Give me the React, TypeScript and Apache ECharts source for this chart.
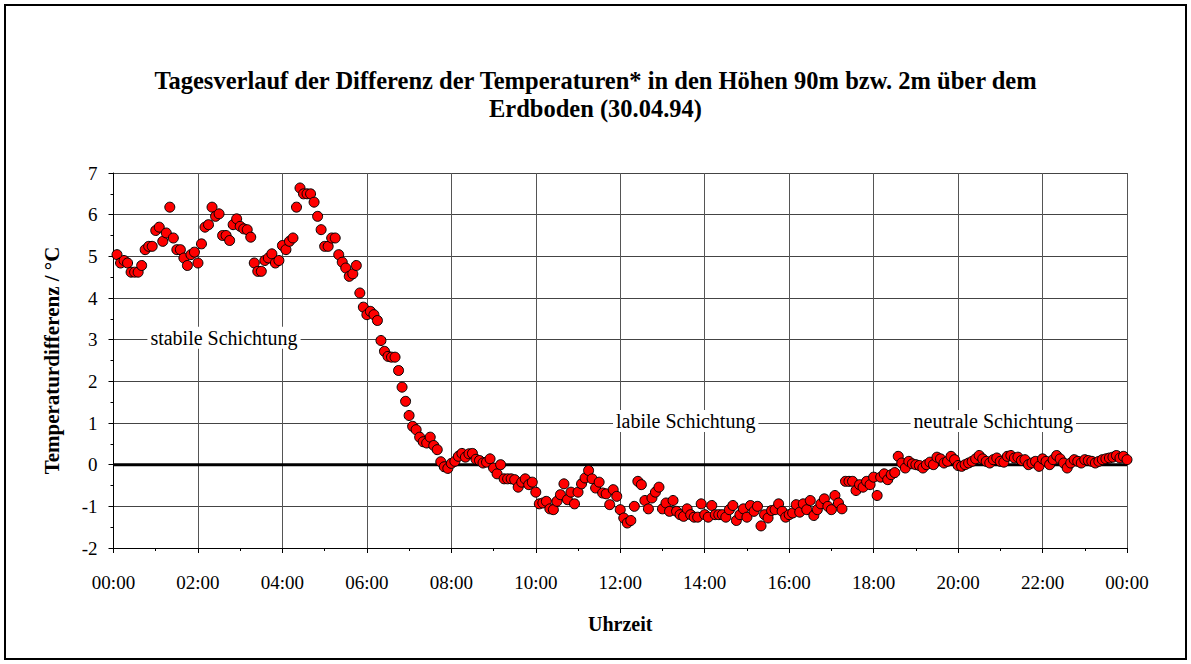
import React, { useEffect, useRef } from "react";
import * as echarts from "echarts";

const TITLE_LINES = [
  "Tagesverlauf der Differenz der Temperaturen* in den Höhen 90m bzw. 2m über dem",
  "Erdboden (30.04.94)",
];
const X_NAME = "Uhrzeit";
const Y_NAME = "Temperaturdifferenz / °C";

// measurement every 5 minutes, first at 00:05, last at 24:00
const FIRST_MINUTE = 5;
const STEP_MINUTES = 5;

// 00:05 – 06:00
const valuesNight = [
  5.04, 4.84, 4.9, 4.84, 4.62, 4.62, 4.62, 4.78, 5.16, 5.24, 5.24, 5.62,
  5.7, 5.36, 5.56, 6.18, 5.44, 5.16, 5.16, 4.96, 4.78, 5.04, 5.1, 4.84,
  5.3, 5.7, 5.76, 6.18, 5.96, 6.02, 5.5, 5.5, 5.38, 5.76, 5.9, 5.72,
  5.66, 5.64, 5.46, 4.84, 4.64, 4.64, 4.9, 4.96, 5.06, 4.84, 4.9, 5.26,
  5.16, 5.36, 5.44, 6.18, 6.64, 6.5, 6.5, 6.5, 6.3, 5.96, 5.64, 5.24,
  5.24, 5.44, 5.44, 5.04, 4.86, 4.72, 4.52, 4.58, 4.78, 4.12, 3.78, 3.6,
];
// 06:05 – 12:00
const valuesMorning = [
  3.68, 3.6, 3.46, 2.98, 2.72, 2.6, 2.58, 2.58, 2.26, 1.86, 1.52, 1.18,
  0.92, 0.84, 0.66, 0.55, 0.52, 0.66, 0.46, 0.36, 0.07, -0.05, -0.09, 0.03,
  0.08, 0.2, 0.27, 0.18, 0.26, 0.27, 0.13, 0.1, 0.04, 0.06, 0.14, -0.08,
  -0.22, 0, -0.34, -0.34, -0.34, -0.36, -0.54, -0.42, -0.34, -0.48, -0.42, -0.66,
  -0.94, -0.92, -0.88, -1.06, -1.08, -0.88, -0.72, -0.46, -0.84, -0.66, -0.94, -0.66,
  -0.46, -0.32, -0.14, -0.34, -0.56, -0.42, -0.68, -0.7, -0.96, -0.6, -0.76, -1.08,
];
// 12:05 – 18:00
const valuesAfternoon = [
  -1.28, -1.4, -1.34, -1.0, -0.4, -0.48, -0.86, -1.06, -0.8, -0.66, -0.54, -1.06,
  -0.92, -1.12, -0.86, -1.12, -1.2, -1.24, -1.06, -1.2, -1.26, -1.26, -0.94, -1.2,
  -1.26, -0.98, -1.2, -1.2, -1.2, -1.26, -1.08, -0.98, -1.34, -1.2, -1.06, -1.26,
  -0.98, -1.12, -1.0, -1.47, -1.2, -1.28, -1.1, -1.08, -0.94, -1.12, -1.26, -1.2,
  -1.16, -0.96, -1.14, -0.94, -1.08, -0.86, -1.22, -1.08, -0.94, -0.82, -1.0, -1.08,
  -0.74, -0.92, -1.06, -0.4, -0.4, -0.4, -0.62, -0.48, -0.54, -0.4, -0.48, -0.3,
];
// 18:05 – 24:00
const valuesEvening = [
  -0.74, -0.3, -0.22, -0.36, -0.24, -0.19, 0.2, 0.04, -0.08, 0.08, 0.02, 0,
  -0.02, -0.08, 0, 0.06, 0, 0.18, 0.14, 0.04, 0.08, 0.2, 0.12, -0.02,
  -0.04, 0, 0.04, 0.08, 0.14, 0.22, 0.14, 0.08, 0.04, 0.12, 0.16, 0.08,
  0.06, 0.2, 0.22, 0.16, 0.18, 0.1, 0.12, 0, 0.04, 0.08, -0.04, 0.14,
  0.08, 0, 0.12, 0.22, 0.14, 0.04, -0.08, 0.04, 0.12, 0.08, 0.04, 0.12,
  0.1, 0.08, 0.04, 0.08, 0.12, 0.14, 0.16, 0.18, 0.22, 0.16, 0.2, 0.12,
];

const ANNOTATIONS = [
  { text: "stabile Schichtung", minute: 157, value: 3 },
  { text: "labile Schichtung", minute: 813, value: 1 },
  { text: "neutrale Schichtung", minute: 1250, value: 1 },
];

const X_MIN = 0;
const X_MAX = 1440;
const X_INTERVAL = 120;
const Y_MIN = -2;
const Y_MAX = 7;
const Y_INTERVAL = 1;

const FONT = "'Liberation Serif', 'Times New Roman', Times, serif";

function fmtTime(v: number): string {
  const m = Math.round(v) % 1440;
  const h = Math.floor(m / 60);
  const mm = m % 60;
  return String(h).padStart(2, "0") + ":" + String(mm).padStart(2, "0");
}

export default function App() {
  const ref = useRef<HTMLDivElement>(null);

  useEffect(() => {
    if (!ref.current) return;
    const chart = echarts.init(ref.current, null, { renderer: "svg" });
    const allValues = [...valuesNight, ...valuesMorning, ...valuesAfternoon, ...valuesEvening];
    const points = allValues.map((v, i) => [FIRST_MINUTE + i * STEP_MINUTES, v]);

    chart.setOption({
      animation: false,
      backgroundColor: "#ffffff",
      title: {
        text: TITLE_LINES.join("\n"),
        left: "center",
        top: 61,
        textStyle: {
          fontFamily: FONT,
          fontSize: 24.5,
          fontWeight: "bold",
          color: "#000",
          lineHeight: 28,
        },
      },
      graphic: [
        {
          type: "rect",
          shape: { x: 5, y: 5, width: 1181, height: 654 },
          style: { fill: "none", stroke: "#000", lineWidth: 2 },
          silent: true,
        },
      ],
      grid: { left: 113.5, right: 64, top: 173, bottom: 116, containLabel: false },
      xAxis: {
        type: "value",
        min: X_MIN,
        max: X_MAX,
        interval: X_INTERVAL,
        name: X_NAME,
        nameLocation: "middle",
        nameGap: 66,
        nameTextStyle: { fontFamily: FONT, fontSize: 20, fontWeight: "bold", color: "#000" },
        axisLine: { show: true, onZero: false, lineStyle: { color: "#000", width: 1 } },
        axisTick: { show: true, length: 5, lineStyle: { color: "#000" } },
        minorTick: { show: true, splitNumber: 2, length: 3, lineStyle: { color: "#000" } },
        splitLine: { show: true, lineStyle: { color: "#555", width: 1 } },
        axisLabel: {
          formatter: (v: number) => fmtTime(v),
          fontFamily: FONT,
          fontSize: 19,
          color: "#000",
          margin: 25,
          showMinLabel: true,
          showMaxLabel: true,
        },
      },
      yAxis: {
        type: "value",
        min: Y_MIN,
        max: Y_MAX,
        interval: Y_INTERVAL,
        name: Y_NAME,
        nameLocation: "middle",
        nameGap: 51,
        nameRotate: 90,
        nameTextStyle: { fontFamily: FONT, fontSize: 21, fontWeight: "bold", color: "#000" },
        axisLine: { show: true, onZero: false, lineStyle: { color: "#000", width: 1 } },
        axisTick: { show: true, length: 5, lineStyle: { color: "#000" } },
        minorTick: { show: true, splitNumber: 2, length: 3, lineStyle: { color: "#000" } },
        splitLine: { show: true, lineStyle: { color: "#444", width: 1 } },
        axisLabel: { fontFamily: FONT, fontSize: 19, color: "#000", margin: 16 },
      },
      series: [
        {
          type: "line",
          data: [
            [X_MIN, 0],
            [X_MAX, 0],
          ],
          symbol: "none",
          lineStyle: { color: "#000", width: 3 },
          silent: true,
          z: 2,
          markPoint: {
            silent: true,
            symbol: "circle",
            symbolSize: 1,
            itemStyle: { color: "rgba(0,0,0,0)" },
            data: ANNOTATIONS.map((a) => ({
              coord: [a.minute, a.value],
              label: {
                show: true,
                position: "inside",
                offset: [0, -2],
                formatter: a.text,
                fontFamily: FONT,
                fontSize: 20,
                color: "#000",
                backgroundColor: "#fff",
                padding: [1, 3],
              },
            })),
          },
        },
        {
          type: "scatter",
          data: points,
          symbol: "circle",
          symbolSize: 10,
          itemStyle: { color: "#ff0000", borderColor: "#000", borderWidth: 1, opacity: 1 },
          z: 3,
        },
      ],
    });

    return () => chart.dispose();
  }, []);

  return (
    <div
      ref={ref}
      style={{ position: "fixed", left: 0, top: 0, width: 1191, height: 664, background: "#fff" }}
    />
  );
}
